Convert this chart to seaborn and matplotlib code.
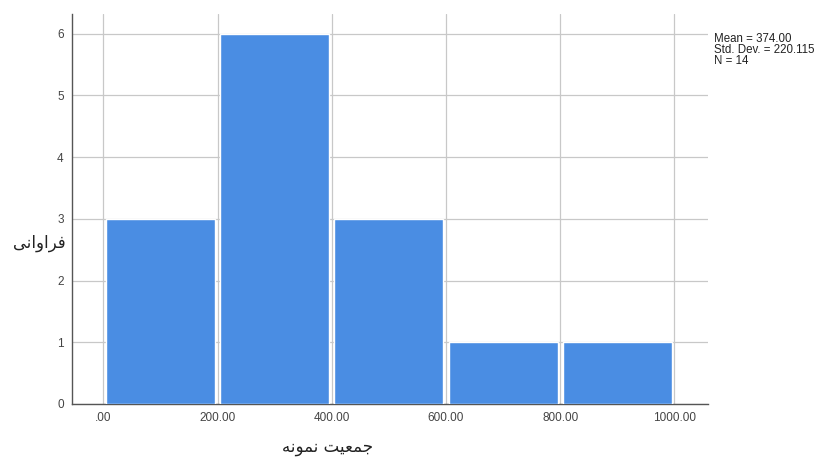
import matplotlib
matplotlib.use("Agg")
import matplotlib.pyplot as plt
import seaborn as sns
import numpy as np

# data
bin_edges = [0, 200, 400, 600, 800, 1000]
bin_centers = [100, 300, 500, 700, 900]
frequencies = [3, 6, 3, 1, 1]
x_ticks = [0, 200, 400, 600, 800, 1000]
x_tick_labels = [".00", "200.00", "400.00", "600.00", "800.00", "1000.00"]
y_ticks = [0, 1, 2, 3, 4, 5, 6]
stats_lines = ["Mean = 374.00", "Std. Dev. = 220.115", "N = 14"]
# Persian labels (pre-shaped presentation forms, visual order)
y_label = "\uFEF0\uFEE7\uFE8D\uFEED\uFE8D\uFEAE\uFED3"          # فراوانی
x_label = "\uFEEA\uFEE7\uFEEE\uFEE4\uFEE7 \uFE96\uFEF4\uFECC\uFEE4\uFE9F"  # جمعیت نمونه

sns.set_theme(style="white")
plt.rcParams['font.family'] = ['Liberation Sans', 'DejaVu Sans']

fig = plt.figure(figsize=(8.19, 4.59), dpi=100)
ax = fig.add_axes([72/819, 1-404/459, 636/819, 390/459])

sns.histplot(x=bin_centers, weights=frequencies, bins=bin_edges, ax=ax,
             color="#4a8de3", alpha=1.0, edgecolor="white", linewidth=1.0,
             shrink=0.955, zorder=3)

ax.set_xlim(-55, 1059)
ax.set_ylim(0, 6.32)
ax.set_xticks(x_ticks)
ax.set_xticklabels(x_tick_labels)
ax.set_yticks(y_ticks)
ax.tick_params(axis='both', length=0, labelsize=8.5, colors="#444444")
ax.tick_params(axis='x', pad=6)
ax.tick_params(axis='y', pad=6)

ax.grid(True, color="#c8c8c8", linewidth=0.9, zorder=0)
ax.set_axisbelow(True)
for s in ["top", "right"]:
    ax.spines[s].set_visible(False)
for s in ["left", "bottom"]:
    ax.spines[s].set_color("#555555")
    ax.spines[s].set_linewidth(1.0)

ax.set_xlabel("")
ax.set_ylabel("")
fig.text(328/819, 1-447/459, x_label, family=['DejaVu Sans'], fontsize=12,
         ha='center', va='center', color="#222222")
fig.text(39/819, 1-243/459, y_label, family=['DejaVu Sans'], fontsize=12,
         ha='center', va='center', color="#222222")

for i, line in enumerate(stats_lines):
    fig.text(714/819, 1-(39 + i*11)/459, line, fontsize=8.3, ha='left',
             va='center', color="#222222")

fig.savefig("out.png", dpi=100)
